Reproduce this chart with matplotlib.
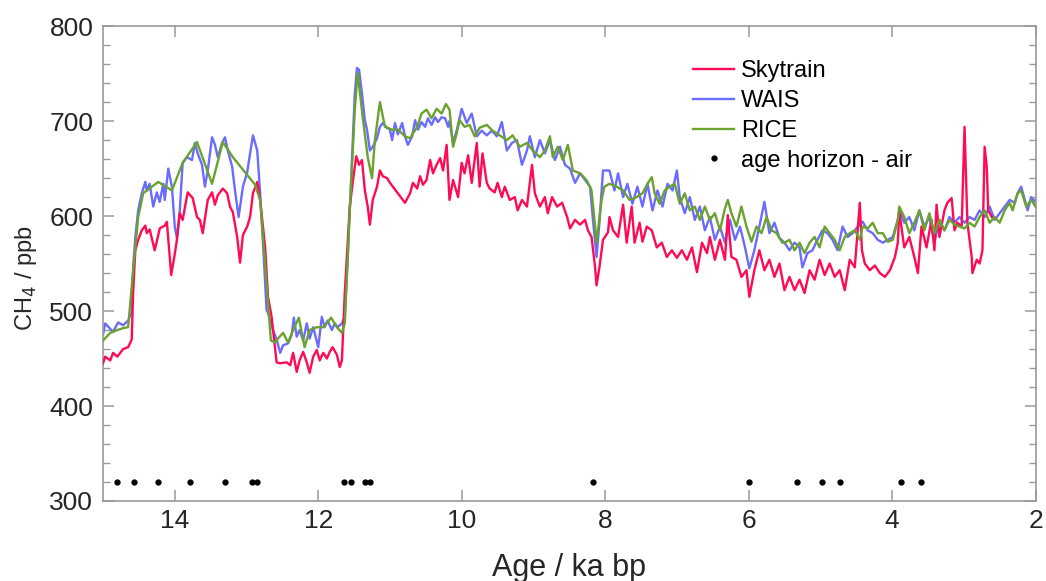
import matplotlib
matplotlib.use('Agg')
import matplotlib.pyplot as plt
from matplotlib.ticker import MultipleLocator
from matplotlib.lines import Line2D

# ------------------------------------------------------------
# CH4 records (age in ka bp, CH4 in ppb)
# ------------------------------------------------------------
sky_age = [15.00, 14.97, 14.90, 14.86, 14.80, 14.72, 14.65, 14.60, 14.58, 14.55,
           14.51, 14.46, 14.41, 14.39, 14.35, 14.28, 14.23, 14.21, 14.14, 14.11,
           14.05, 14.00, 13.97, 13.93, 13.89, 13.82, 13.75, 13.69, 13.65, 13.61,
           13.54, 13.48, 13.44, 13.40, 13.33, 13.27, 13.23, 13.19, 13.13, 13.09,
           13.05, 12.99, 12.95, 12.91, 12.85, 12.81, 12.74, 12.70, 12.65, 12.58,
           12.53, 12.44, 12.39, 12.35, 12.30, 12.26, 12.21, 12.16, 12.12, 12.07,
           12.02, 11.98, 11.93, 11.88, 11.84, 11.80, 11.74, 11.70, 11.67, 11.63,
           11.56, 11.52, 11.47, 11.43, 11.39, 11.35, 11.31, 11.28, 11.24, 11.18,
           11.14, 11.10, 11.04, 11.00, 10.79, 10.72, 10.68, 10.62, 10.58, 10.54,
           10.49, 10.44, 10.40, 10.35, 10.30, 10.26, 10.21, 10.17, 10.12, 10.05,
           10.00, 9.96, 9.91, 9.86, 9.79, 9.75, 9.71, 9.65, 9.61, 9.54,
           9.50, 9.44, 9.40, 9.33, 9.26, 9.22, 9.16, 9.09, 9.02, 8.98,
           8.91, 8.84, 8.80, 8.74, 8.67, 8.60, 8.53, 8.49, 8.42, 8.35,
           8.28, 8.24, 8.19, 8.14, 8.12, 8.08, 8.03, 7.96, 7.94, 7.89,
           7.82, 7.75, 7.70, 7.63, 7.59, 7.52, 7.48, 7.42, 7.35, 7.28,
           7.21, 7.14, 7.07, 7.00, 6.93, 6.86, 6.79, 6.72, 6.65, 6.58,
           6.54, 6.47, 6.40, 6.33, 6.29, 6.24, 6.17, 6.10, 6.03, 5.99,
           5.92, 5.85, 5.78, 5.71, 5.64, 5.57, 5.50, 5.43, 5.36, 5.29,
           5.22, 5.15, 5.08, 5.01, 4.94, 4.87, 4.80, 4.73, 4.66, 4.59,
           4.52, 4.45, 4.42, 4.38, 4.31, 4.24, 4.17, 4.10, 4.03, 3.96,
           3.92, 3.90, 3.83, 3.76, 3.69, 3.64, 3.59, 3.52, 3.45, 3.41,
           3.38, 3.34, 3.27, 3.23, 3.17, 3.13, 3.09, 3.03, 2.99, 2.95,
           2.89, 2.88, 2.82, 2.78, 2.74, 2.71, 2.68, 2.66, 2.61]
sky_ch4 = [445, 452, 448, 456, 452, 460, 462, 470, 520, 564,
           575, 585, 590, 582, 586, 564, 580, 587, 590, 594,
           538, 560, 575, 603, 596, 625, 619, 599, 596, 582,
           617, 625, 612, 622, 629, 624, 610, 604, 578, 551,
           580, 589, 599, 624, 636, 617, 567, 515, 494, 446,
           445, 446, 443, 456, 436, 448, 457, 446, 435, 452,
           459, 448, 456, 450, 457, 462, 454, 441, 448, 519,
           610, 635, 663, 654, 659, 627, 610, 591, 617, 631,
           648, 642, 640, 635, 614, 624, 635, 629, 642, 633,
           638, 659, 645, 654, 661, 648, 675, 617, 638, 620,
           656, 645, 664, 635, 677, 631, 666, 635, 629, 625,
           635, 620, 631, 617, 620, 606, 617, 610, 654, 624,
           610, 620, 603, 620, 610, 614, 599, 587, 596, 591,
           596, 585, 578, 546, 527, 546, 575, 583, 599, 585,
           578, 612, 572, 610, 572, 593, 573, 589, 585, 567,
           572, 557, 564, 556, 564, 554, 567, 541, 572, 561,
           578, 554, 575, 554, 601, 557, 554, 536, 543, 515,
           543, 564, 543, 554, 536, 550, 522, 536, 522, 533,
           519, 543, 533, 554, 538, 550, 536, 543, 522, 554,
           546, 614, 564, 550, 543, 548, 540, 536, 543, 557,
           572, 605, 567, 578, 557, 540, 589, 567, 596, 564,
           612, 578, 606, 614, 619, 585, 593, 589, 694, 593,
           557, 540, 554, 550, 564, 673, 652, 606, 599]

wais_age = [15.00, 14.97, 14.86, 14.79, 14.72, 14.65, 14.60, 14.58, 14.55, 14.51,
            14.46, 14.41, 14.39, 14.35, 14.30, 14.25, 14.21, 14.16, 14.14, 14.09,
            14.04, 14.00, 13.97, 13.93, 13.89, 13.83, 13.76, 13.72, 13.68, 13.62,
            13.58, 13.54, 13.48, 13.44, 13.40, 13.34, 13.30, 13.26, 13.20, 13.16,
            13.11, 13.05, 12.99, 12.95, 12.91, 12.85, 12.81, 12.77, 12.72, 12.70,
            12.63, 12.58, 12.53, 12.49, 12.42, 12.37, 12.34, 12.30, 12.26, 12.21,
            12.16, 12.12, 12.07, 12.00, 11.95, 11.91, 11.87, 11.81, 11.77, 11.73,
            11.67, 11.63, 11.59, 11.53, 11.49, 11.46, 11.43, 11.39, 11.35, 11.32,
            11.28, 11.24, 11.18, 11.14, 11.10, 11.04, 11.00, 10.97, 10.93, 10.89,
            10.83, 10.79, 10.75, 10.69, 10.65, 10.61, 10.56, 10.51, 10.47, 10.42,
            10.37, 10.33, 10.28, 10.23, 10.19, 10.17, 10.12, 10.07, 10.00, 9.93,
            9.86, 9.79, 9.72, 9.65, 9.58, 9.51, 9.44, 9.37, 9.30, 9.23,
            9.16, 9.09, 9.05, 8.98, 8.91, 8.84, 8.77, 8.70, 8.63, 8.56,
            8.49, 8.42, 8.35, 8.28, 8.21, 8.17, 8.12, 8.08, 8.03, 7.94,
            7.87, 7.82, 7.75, 7.69, 7.62, 7.55, 7.48, 7.41, 7.34, 7.27,
            7.20, 7.13, 7.06, 7.00, 6.96, 6.89, 6.82, 6.75, 6.68, 6.61,
            6.54, 6.47, 6.40, 6.33, 6.26, 6.19, 6.12, 6.05, 5.99, 5.92,
            5.85, 5.78, 5.71, 5.64, 5.57, 5.50, 5.43, 5.36, 5.29, 5.25,
            5.18, 5.11, 5.04, 4.97, 4.90, 4.83, 4.76, 4.69, 4.62, 4.55,
            4.48, 4.41, 4.34, 4.27, 4.20, 4.13, 4.06, 3.99, 3.92, 3.90,
            3.83, 3.76, 3.69, 3.62, 3.55, 3.48, 3.41, 3.34, 3.27, 3.20,
            3.13, 3.06, 2.99, 2.92, 2.85, 2.78, 2.71, 2.64, 2.57, 2.50,
            2.43, 2.36, 2.29, 2.25, 2.20, 2.15, 2.11, 2.06, 2.01, 2.00]
wais_ch4 = [475, 487, 478, 488, 485, 490, 498, 546, 578, 606,
            624, 636, 627, 634, 610, 625, 615, 634, 617, 650,
            631, 589, 577, 606, 656, 662, 659, 677, 666, 654,
            631, 648, 683, 675, 662, 677, 683, 669, 652, 627,
            599, 631, 646, 666, 685, 669, 624, 572, 501, 498,
            480, 470, 456, 464, 466, 475, 493, 473, 480, 469,
            487, 471, 483, 462, 494, 483, 490, 480, 487, 483,
            487, 494, 554, 659, 729, 756, 754, 729, 701, 691,
            669, 673, 682, 694, 698, 693, 691, 680, 698, 686,
            698, 684, 675, 684, 701, 691, 699, 694, 703, 696,
            704, 699, 704, 703, 694, 700, 677, 690, 713, 698,
            708, 684, 690, 685, 690, 684, 699, 669, 677, 680,
            654, 669, 684, 662, 680, 666, 680, 659, 673, 654,
            650, 635, 645, 638, 631, 596, 557, 593, 648, 648,
            627, 645, 620, 634, 613, 631, 610, 634, 606, 627,
            610, 634, 627, 648, 620, 603, 620, 596, 610, 585,
            599, 575, 589, 572, 596, 575, 589, 567, 545, 564,
            589, 615, 582, 593, 577, 572, 564, 572, 567, 546,
            561, 564, 575, 585, 582, 575, 564, 589, 578, 582,
            589, 594, 585, 582, 575, 572, 575, 578, 596, 606,
            593, 599, 585, 606, 589, 599, 572, 596, 585, 599,
            593, 599, 593, 599, 596, 606, 599, 610, 596, 603,
            610, 617, 614, 624, 631, 617, 606, 620, 615, 617]

rice_age = [15.00, 14.90, 14.80, 14.72, 14.65, 14.58, 14.51, 14.44, 14.23, 14.04,
            13.89, 13.69, 13.48, 13.33, 13.19, 13.02, 12.88, 12.81, 12.77, 12.72,
            12.66, 12.60, 12.55, 12.49, 12.42, 12.35, 12.27, 12.19, 12.12, 12.02,
            11.93, 11.82, 11.74, 11.67, 11.63, 11.56, 11.49, 11.45, 11.38, 11.31,
            11.25, 11.21, 11.14, 11.07, 10.97, 10.89, 10.79, 10.72, 10.62, 10.56,
            10.49, 10.42, 10.35, 10.28, 10.22, 10.17, 10.12, 10.07, 10.03, 9.96,
            9.89, 9.82, 9.75, 9.65, 9.57, 9.47, 9.37, 9.29, 9.19, 9.09,
            9.01, 8.91, 8.84, 8.77, 8.73, 8.66, 8.59, 8.52, 8.45, 8.35,
            8.26, 8.19, 8.14, 8.12, 8.05, 8.01, 7.94, 7.84, 7.75, 7.66,
            7.56, 7.48, 7.41, 7.35, 7.31, 7.24, 7.17, 7.10, 7.03, 6.96,
            6.89, 6.82, 6.75, 6.68, 6.61, 6.54, 6.47, 6.40, 6.33, 6.29,
            6.24, 6.17, 6.10, 6.03, 5.96, 5.89, 5.82, 5.75, 5.68, 5.61,
            5.53, 5.50, 5.43, 5.36, 5.29, 5.22, 5.15, 5.08, 5.01, 4.94,
            4.87, 4.80, 4.73, 4.66, 4.59, 4.52, 4.45, 4.41, 4.34, 4.27,
            4.20, 4.13, 4.06, 3.99, 3.92, 3.90, 3.83, 3.76, 3.69, 3.62,
            3.55, 3.48, 3.41, 3.34, 3.27, 3.20, 3.13, 3.06, 2.99, 2.92,
            2.85, 2.78, 2.71, 2.64, 2.57, 2.50, 2.43, 2.36, 2.32, 2.25,
            2.20, 2.13, 2.06, 2.00]
rice_ch4 = [469, 477, 480, 482, 483, 543, 599, 624, 636, 627,
            656, 678, 634, 678, 662, 646, 633, 617, 578, 529,
            469, 467, 472, 477, 467, 480, 493, 462, 480, 483,
            483, 493, 483, 477, 487, 606, 712, 751, 704, 662,
            640, 680, 720, 694, 691, 691, 684, 682, 694, 708,
            712, 703, 713, 708, 718, 712, 673, 687, 701, 694,
            696, 684, 693, 696, 690, 685, 680, 685, 673, 677,
            669, 662, 669, 684, 662, 673, 659, 675, 648, 645,
            638, 627, 589, 572, 617, 631, 634, 631, 627, 617,
            620, 624, 634, 641, 624, 613, 627, 631, 634, 613,
            624, 606, 610, 596, 610, 596, 603, 585, 608, 617,
            603, 589, 610, 589, 573, 589, 582, 599, 585, 582,
            572, 572, 575, 564, 572, 561, 572, 578, 567, 589,
            582, 575, 564, 578, 582, 585, 575, 589, 587, 593,
            582, 582, 573, 575, 596, 610, 599, 582, 593, 606,
            585, 603, 582, 596, 585, 596, 591, 589, 587, 593,
            589, 599, 606, 593, 599, 593, 606, 614, 606, 624,
            627, 610, 617, 610]

# age horizons (air), all plotted at 320 ppb
horizon_age = [14.81, 14.57, 14.23, 13.79, 13.30, 12.92, 12.85, 11.64, 11.54,
               11.35, 11.28, 8.17, 5.99, 5.33, 4.97, 4.73, 3.87, 3.59]
horizon_ch4 = [320] * len(horizon_age)

# colours
C_SKY = '#FF0A55'
C_WAIS = '#6B6BFF'
C_RICE = '#6AA22E'

plt.rcParams.update({
    'font.family': ['Liberation Sans', 'DejaVu Sans'],
    'font.size': 17,
})

fig = plt.figure(figsize=(10.46, 5.81), dpi=100)
ax = fig.add_axes([0.0985, 0.1377, 0.8915, 0.8173])

ax.plot(sky_age, sky_ch4, color=C_SKY, lw=1.7, zorder=3)
ax.plot(wais_age, wais_ch4, color=C_WAIS, lw=1.7, zorder=2)
ax.plot(rice_age, rice_ch4, color=C_RICE, lw=1.7, zorder=4)
ax.plot(horizon_age, horizon_ch4, 'o', color='black', ms=3.5, ls='none', zorder=5)

ax.set_xlim(15, 2)
ax.set_ylim(300, 800)
ax.xaxis.set_major_locator(MultipleLocator(2))
ax.yaxis.set_major_locator(MultipleLocator(100))
ax.yaxis.set_minor_locator(MultipleLocator(20))

for s in ax.spines.values():
    s.set_color('#9a9a9a')
    s.set_linewidth(1.2)
ax.tick_params(which='both', direction='in', top=True, right=True,
               color='#9a9a9a', labelcolor='#262626', labelsize=19)
ax.tick_params(which='major', length=8, width=1.1)
ax.tick_params(axis='y', which='major', pad=7)
ax.tick_params(axis='x', which='major', pad=6)
ax.tick_params(which='minor', length=5, width=1.0)

ax.set_xlabel('Age / ka bp', fontsize=22, color='#262626', labelpad=14)
ax.set_ylabel('CH$_4$ / ppb', fontsize=17, color='#262626', labelpad=6)
ax.yaxis.set_label_coords(-0.069, 0.47)

handles = [
    Line2D([], [], color=C_SKY, lw=1.7),
    Line2D([], [], color=C_WAIS, lw=1.7),
    Line2D([], [], color=C_RICE, lw=1.7),
    Line2D([], [], color='black', marker='o', ms=3.5, ls='none'),
]
labels = ['Skytrain', 'WAIS', 'RICE', 'age horizon - air']
ax.legend(handles, labels, loc='upper left', bbox_to_anchor=(0.618, 0.958),
          frameon=False, fontsize=17, handlelength=1.7, handletextpad=0.3,
          labelspacing=0.33, borderaxespad=0.2)

fig.savefig('out.png', dpi=100)
